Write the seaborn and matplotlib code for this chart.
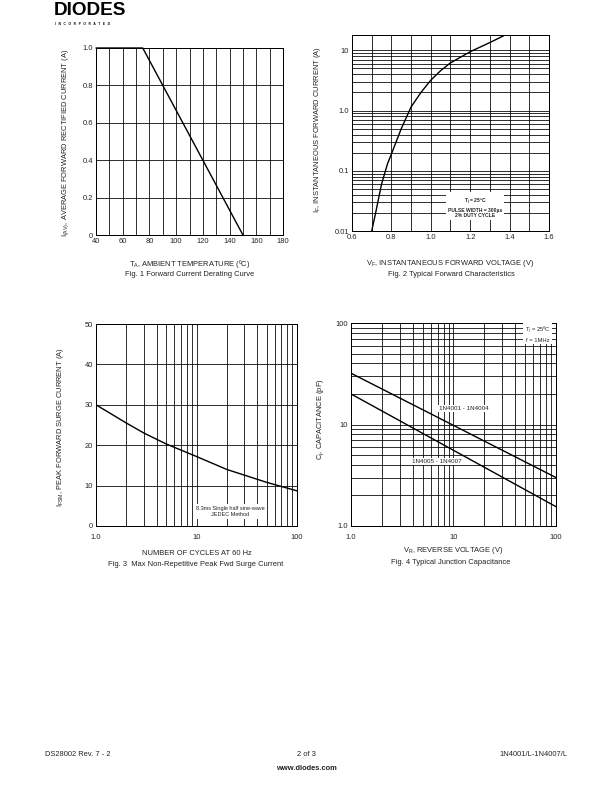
import numpy as np
import matplotlib
matplotlib.use("Agg")
import matplotlib.pyplot as plt
import matplotlib.ticker as mticker
import seaborn as sns

# data
fig1_temp = [40, 75, 150]
fig1_current = [1.0, 1.0, 0.0]

fig2_vf = [0.70, 0.72, 0.75, 0.78, 0.80, 0.85, 0.90, 0.95, 1.00, 1.05, 1.10, 1.20, 1.30, 1.37]
fig2_if = [0.01, 0.02, 0.06, 0.13, 0.19, 0.5, 1.15, 2.0, 3.2, 4.6, 6.2, 9.5, 13.5, 17.5]

fig3_cycles = [1, 2, 3, 5, 10, 20, 50, 100]
fig3_surge = [30, 25.5, 23, 20.3, 17.2, 14, 10.8, 8.7]

fig4_vr = [1, 100]
fig4_cj_4001 = [32, 3.0]
fig4_cj_4005 = [20, 1.55]

sns.set_style("white")
plt.rcParams["font.family"] = ["Liberation Sans", "DejaVu Sans"]
plt.rcParams["mathtext.default"] = "regular"

W, H = 612, 792
fig = plt.figure(figsize=(W / 72, H / 72), dpi=72)

def px_axes(left, top, right, bottom):
    return fig.add_axes([left / W, (H - bottom) / H, (right - left) / W, (bottom - top) / H])

TICK = 7.5
LAB = 7.5
txt_col = "#222222"

def style(ax):
    for s in ax.spines.values():
        s.set_color("black")
        s.set_linewidth(1.0)
    ax.tick_params(which="both", length=0, labelsize=TICK, colors=txt_col, pad=3)
    ax.grid(True, which="both", color="black", linewidth=0.8)
    ax.set_axisbelow(True)

# ---- Fig 1
ax1 = px_axes(96, 48, 283, 235)
sns.lineplot(x=fig1_temp, y=fig1_current, ax=ax1, color="black", linewidth=1.4, clip_on=False)
ax1.set_xlim(40, 180)
ax1.set_ylim(0, 1.0)
ax1.set_xticks(range(40, 181, 20))
ax1.set_xticks(range(50, 180, 20), minor=True)
ax1.set_yticks([0, 0.2, 0.4, 0.6, 0.8, 1.0])
ax1.set_yticklabels(["0", "0.2", "0.4", "0.6", "0.8", "1.0"])
style(ax1)
ax1.set_xlabel("T$_A$, AMBIENT TEMPERATURE (ºC)", fontsize=LAB, color=txt_col)
ax1.set_ylabel("I$_{(AV)}$, AVERAGE FORWARD RECTIFIED CURRENT (A)", fontsize=LAB, color=txt_col)
ax1.xaxis.set_label_coords(0.5, -0.123)
ax1.yaxis.set_label_coords(-0.134, 0.49)
fig.text(190 / W, 1 - 275 / H, "Fig. 1 Forward Current Derating Curve", ha="center", va="center",
         fontsize=LAB, color=txt_col)

# ---- Fig 2
ax2 = px_axes(352, 35, 549, 231)
sns.lineplot(x=fig2_vf, y=fig2_if, ax=ax2, color="black", linewidth=1.4)
ax2.set_yscale("log")
ax2.set_xlim(0.6, 1.6)
ax2.set_ylim(0.01, 18)
ax2.set_xticks(np.arange(0.6, 1.61, 0.2))
ax2.set_xticklabels(["0.6", "0.8", "1.0", "1.2", "1.4", "1.6"])
ax2.set_xticks(np.arange(0.7, 1.6, 0.2), minor=True)
ax2.set_yticks([0.01, 0.1, 1, 10])
ax2.set_yticklabels(["0.01", "0.1", "1.0", "10"])
ax2.yaxis.set_minor_locator(mticker.LogLocator(base=10, subs=np.arange(2, 10)))
ax2.yaxis.set_minor_formatter(mticker.NullFormatter())
style(ax2)
ax2.set_xlabel("V$_F$, INSTANTANEOUS FORWARD VOLTAGE (V)", fontsize=LAB, color=txt_col)
ax2.set_ylabel("I$_F$, INSTANTANEOUS FORWARD CURRENT (A)", fontsize=LAB, color=txt_col)
ax2.xaxis.set_label_coords(0.5, -0.138)
ax2.yaxis.set_label_coords(-0.147, 0.515)
ax2.text(1.225, 0.0245, "T$_j$ = 25ºC\nPULSE WIDTH = 300µs\n2% DUTY CYCLE", ha="center", va="center",
         fontsize=5, weight="bold", linespacing=1.1,
         bbox=dict(facecolor="white", edgecolor="none", pad=2))
fig.text(451 / W, 1 - 275 / H, "Fig. 2 Typical Forward Characteristics", ha="center", va="center",
         fontsize=LAB, color=txt_col)

# ---- Fig 3
ax3 = px_axes(96, 324, 297, 526)
sns.lineplot(x=fig3_cycles, y=fig3_surge, ax=ax3, color="black", linewidth=1.4)
ax3.set_xscale("log")
ax3.set_xlim(1, 100)
ax3.set_ylim(0, 50)
ax3.set_xticks([1, 10, 100])
ax3.set_xticklabels(["1.0", "10", "100"])
ax3.xaxis.set_minor_locator(mticker.LogLocator(base=10, subs=np.arange(2, 10)))
ax3.xaxis.set_minor_formatter(mticker.NullFormatter())
ax3.set_yticks(range(0, 51, 10))
style(ax3)
ax3.tick_params(axis="x", pad=8)
ax3.set_xlabel("NUMBER OF CYCLES AT 60 Hz", fontsize=LAB, color=txt_col)
ax3.set_ylabel("I$_{FSM}$, PEAK FORWARD SURGE CURRENT (A)", fontsize=LAB, color=txt_col)
ax3.xaxis.set_label_coords(0.5, -0.119)
ax3.yaxis.set_label_coords(-0.149, 0.49)
ax3.text(21.5, 3.5, "8.3ms Single half sine-wave\nJEDEC Method", ha="center", va="center",
         fontsize=5.5, color=txt_col, linespacing=1.2,
         bbox=dict(facecolor="white", edgecolor="none", pad=2))
fig.text(196 / W, 1 - 564 / H, "Fig. 3  Max Non-Repetitive Peak Fwd Surge Current", ha="center",
         va="center", fontsize=LAB, color=txt_col)

# ---- Fig 4
ax4 = px_axes(351, 323, 556, 526)
sns.lineplot(x=fig4_vr, y=fig4_cj_4001, ax=ax4, color="black", linewidth=1.4)
sns.lineplot(x=fig4_vr, y=fig4_cj_4005, ax=ax4, color="black", linewidth=1.4)
ax4.set_xscale("log")
ax4.set_yscale("log")
ax4.set_xlim(1, 100)
ax4.set_ylim(1, 100)
ax4.set_xticks([1, 10, 100])
ax4.set_xticklabels(["1.0", "10", "100"])
ax4.set_yticks([1, 10, 100])
ax4.set_yticklabels(["1.0", "10", "100"])
for a in (ax4.xaxis, ax4.yaxis):
    a.set_minor_locator(mticker.LogLocator(base=10, subs=np.arange(2, 10)))
    a.set_minor_formatter(mticker.NullFormatter())
style(ax4)
ax4.tick_params(axis="x", pad=8)
ax4.set_xlabel("V$_R$, REVERSE VOLTAGE (V)", fontsize=LAB, color=txt_col)
ax4.set_ylabel("C$_j$, CAPACITANCE (pF)", fontsize=LAB, color=txt_col)
ax4.xaxis.set_label_coords(0.5, -0.094)
ax4.yaxis.set_label_coords(-0.122, 0.527)
ax4.text(12.5, 14.3, "1N4001 - 1N4004", ha="center", va="center", fontsize=6.3, color=txt_col,
         bbox=dict(facecolor="white", edgecolor="none", pad=1))
ax4.text(6.8, 4.3, "1N4005 - 1N4007", ha="center", va="center", fontsize=6.3, color=txt_col,
         bbox=dict(facecolor="white", edgecolor="none", pad=1))
ax4.text(66, 78, "T$_j$ = 25ºC\nf = 1MHz", ha="center", va="center", fontsize=5.8, color=txt_col,
         linespacing=1.4, bbox=dict(facecolor="white", edgecolor="none", pad=1.5))
fig.text(451 / W, 1 - 563 / H, "Fig. 4 Typical Junction Capacitance", ha="center", va="center",
         fontsize=LAB, color=txt_col)

# ---- logo and footer
fig.text(54 / W, 1 - 10.5 / H, "DIODES", fontsize=19, weight="heavy",
         ha="left", va="center", color="black")
fig.text(55 / W, 1 - 24 / H, "I   N   C   O   R   P   O   R   A   T   E   D", fontsize=3.2,
         weight="bold", ha="left", va="center", color="black")
fig.text(45 / W, 1 - 755 / H, "DS28002 Rev. 7 - 2", fontsize=7.5, ha="left", va="center", color=txt_col)
fig.text(306 / W, 1 - 755 / H, "2 of 3", fontsize=7.5, ha="center", va="center", color=txt_col)
fig.text(306 / W, 1 - 768 / H, "www.diodes.com", fontsize=7.5, weight="bold", ha="center",
         va="center", color=txt_col)
fig.text(567 / W, 1 - 755 / H, "1N4001/L-1N4007/L", fontsize=7.5, ha="right", va="center", color=txt_col)

fig.savefig("out.png", dpi=72)
